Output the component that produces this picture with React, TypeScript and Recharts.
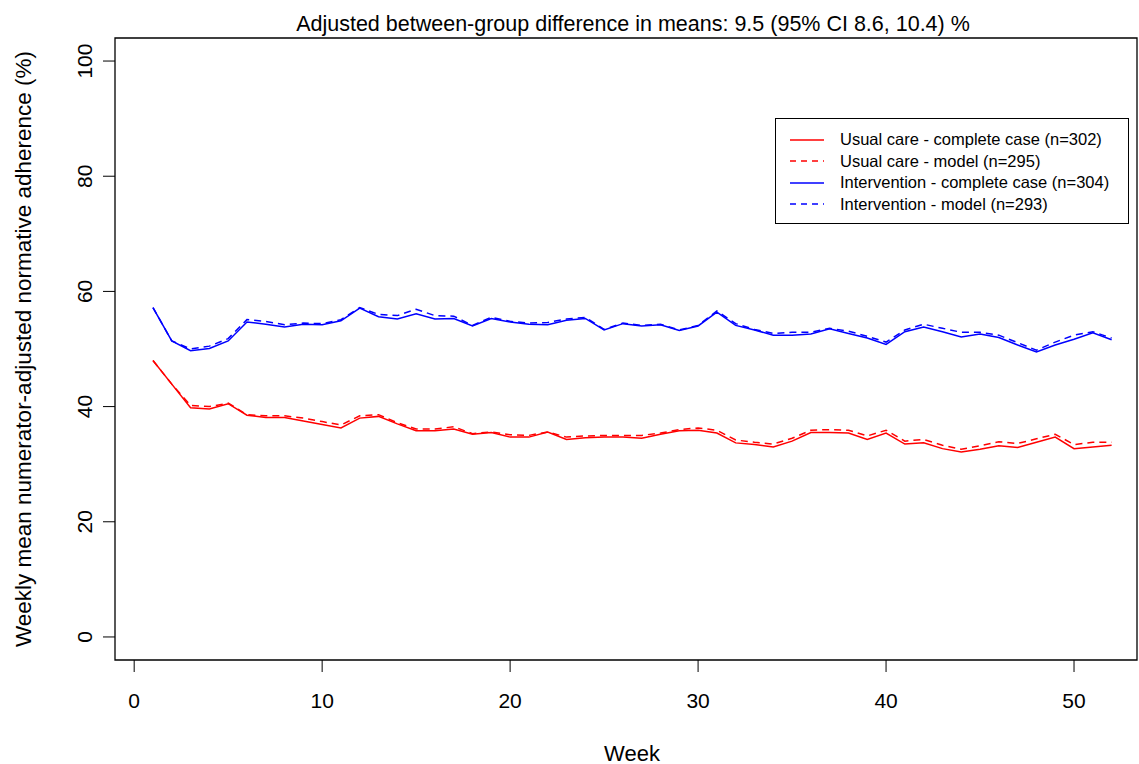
import { LineChart, Line, XAxis, YAxis, ReferenceArea } from 'recharts'

const weeks = [
  1, 2, 3, 4, 5, 6, 7, 8, 9, 10, 11, 12, 13, 14, 15, 16, 17, 18, 19, 20, 21, 22, 23, 24, 25, 26,
  27, 28, 29, 30, 31, 32, 33, 34, 35, 36, 37, 38, 39, 40, 41, 42, 43, 44, 45, 46, 47, 48, 49, 50, 51, 52,
]

const usualComplete = [
  48.0, 43.9, 39.8, 39.6, 40.5, 38.5, 38.1, 38.1, 37.5, 36.9, 36.3, 38.0, 38.3, 37.0, 35.8, 35.8, 36.1,
  35.2, 35.5, 34.7, 34.7, 35.6, 34.3, 34.6, 34.7, 34.7, 34.5, 35.2, 35.8, 35.9, 35.4, 33.7, 33.4, 33.0,
  34.0, 35.5, 35.5, 35.4, 34.3, 35.4, 33.5, 33.7, 32.7, 32.1, 32.6, 33.2, 32.9, 33.8, 34.7, 32.7, 33.0, 33.3,
]

const usualModel = [
  48.0, 43.9, 40.2, 40.0, 40.6, 38.6, 38.4, 38.4, 38.0, 37.4, 36.8, 38.4, 38.6, 37.2, 36.1, 36.1, 36.5,
  35.3, 35.6, 35.1, 35.0, 35.6, 34.7, 34.9, 35.0, 35.0, 35.0, 35.4, 36.0, 36.3, 35.9, 34.2, 33.8, 33.5,
  34.5, 35.9, 36.0, 35.9, 34.9, 35.9, 34.0, 34.3, 33.3, 32.6, 33.2, 33.9, 33.6, 34.4, 35.2, 33.4, 33.8, 33.8,
]

const interventionComplete = [
  57.2, 51.4, 49.7, 50.1, 51.4, 54.7, 54.3, 53.8, 54.3, 54.2, 54.9, 57.1, 55.6, 55.2, 56.1, 55.2, 55.3,
  54.0, 55.3, 54.7, 54.3, 54.2, 55.0, 55.3, 53.3, 54.4, 54.0, 54.2, 53.2, 54.0, 56.4, 54.1, 53.3, 52.4,
  52.4, 52.6, 53.5, 52.7, 51.9, 50.8, 53.0, 53.8, 53.0, 52.1, 52.6, 52.0, 50.7, 49.5, 50.7, 51.7, 52.8, 51.6,
]

const interventionModel = [
  57.2, 51.4, 50.0, 50.5, 51.8, 55.1, 54.8, 54.2, 54.5, 54.4, 55.1, 57.2, 56.0, 55.8, 56.9, 55.8, 55.7,
  54.1, 55.5, 54.8, 54.5, 54.6, 55.2, 55.5, 53.4, 54.5, 54.1, 54.3, 53.3, 54.1, 56.6, 54.4, 53.4, 52.7,
  52.9, 52.9, 53.6, 53.1, 52.2, 51.2, 53.3, 54.3, 53.6, 52.9, 52.9, 52.4, 51.1, 49.8, 51.2, 52.4, 53.0, 51.9,
]

const xTicks = [0, 10, 20, 30, 40, 50]
const yTicks = [0, 20, 40, 60, 80, 100]

const legendItems = [
  { label: 'Usual care - complete case (n=302)', color: '#ff0000', dash: undefined },
  { label: 'Usual care - model (n=295)', color: '#ff0000', dash: '6 5' },
  { label: 'Intervention - complete case (n=304)', color: '#0000ff', dash: undefined },
  { label: 'Intervention - model (n=293)', color: '#0000ff', dash: '6 5' },
]

const FONT = 'Liberation Sans, Arial, sans-serif'

function XTick({ x, y, payload }: any) {
  return (
    <g>
      <line x1={x} y1={y} x2={x} y2={y + 12} stroke="#000" />
      <text x={x} y={y + 48} textAnchor="middle" fontSize={21} fontFamily={FONT} fill="#000">
        {payload.value}
      </text>
    </g>
  )
}

function YTick({ x, y, payload }: any) {
  return (
    <g>
      <line x1={x} y1={y} x2={x - 12} y2={y} stroke="#000" />
      <text
        x={x - 23}
        y={y}
        transform={`rotate(-90 ${x - 23} ${y})`}
        textAnchor="middle"
        fontSize={21}
        fontFamily={FONT}
        fill="#000"
      >
        {payload.value}
      </text>
    </g>
  )
}

export default function App() {
  const data = weeks.map((w, i) => ({
    week: w,
    usualComplete: usualComplete[i],
    usualModel: usualModel[i],
    interventionComplete: interventionComplete[i],
    interventionModel: interventionModel[i],
  }))

  return (
    <div
      style={{
        position: 'absolute',
        left: 0,
        top: 0,
        width: 1139,
        height: 764,
        background: '#fff',
        fontFamily: FONT,
      }}
    >
      <LineChart width={1139} height={764} data={data} margin={{ top: 38, right: 2, bottom: 0, left: 0 }}>
        <XAxis
          dataKey="week"
          type="number"
          domain={[-1.02, 53.35]}
          ticks={xTicks}
          allowDataOverflow
          axisLine={false}
          tickLine={false}
          tickSize={0}
          tickMargin={0}
          height={104}
          tick={<XTick />}
          interval={0}
        />
        <YAxis
          type="number"
          domain={[-4, 104]}
          ticks={yTicks}
          allowDataOverflow
          axisLine={false}
          tickLine={false}
          tickSize={0}
          tickMargin={0}
          width={115}
          tick={<YTick />}
          interval={0}
        />
        <ReferenceArea x1={-1.02} x2={53.35} y1={-4} y2={104} fill="none" stroke="#000" strokeWidth={1.3} />
        <Line
          dataKey="usualComplete"
          stroke="#ff0000"
          strokeWidth={1.5}
          dot={false}
          isAnimationActive={false}
        />
        <Line
          dataKey="usualModel"
          stroke="#ff0000"
          strokeWidth={1.5}
          strokeDasharray="7 5"
          dot={false}
          isAnimationActive={false}
        />
        <Line
          dataKey="interventionComplete"
          stroke="#0000ff"
          strokeWidth={1.5}
          dot={false}
          isAnimationActive={false}
        />
        <Line
          dataKey="interventionModel"
          stroke="#0000ff"
          strokeWidth={1.5}
          strokeDasharray="7 5"
          dot={false}
          isAnimationActive={false}
        />
      </LineChart>

      <div
        style={{
          position: 'absolute',
          left: 0,
          width: 1266,
          top: 11,
          textAlign: 'center',
          fontSize: 21.5,
          lineHeight: '26px',
          color: '#000',
        }}
      >
        Adjusted between-group difference in means: 9.5 (95% CI 8.6, 10.4) %
      </div>

      <div
        style={{
          position: 'absolute',
          left: 632 - 300,
          width: 600,
          top: 740,
          textAlign: 'center',
          fontSize: 22,
          lineHeight: '28px',
          color: '#000',
        }}
      >
        Week
      </div>

      <div
        style={{
          position: 'absolute',
          left: 24 - 350,
          top: 349 - 14,
          width: 700,
          textAlign: 'center',
          fontSize: 22.5,
          lineHeight: '28px',
          transform: 'rotate(-90deg)',
          color: '#000',
        }}
      >
        Weekly mean numerator-adjusted normative adherence (%)
      </div>

      <div
        style={{
          position: 'absolute',
          left: 775,
          top: 118,
          width: 354,
          height: 106,
          border: '1px solid #000',
          boxSizing: 'border-box',
          padding: '10px 0 0 14px',
          background: '#fff',
        }}
      >
        {legendItems.map((item) => (
          <div key={item.label} style={{ display: 'flex', alignItems: 'center', height: 21.5 }}>
            <svg width={36} height={10} style={{ marginRight: 14 }}>
              <line
                x1={0}
                y1={5}
                x2={34}
                y2={5}
                stroke={item.color}
                strokeWidth={1.3}
                strokeDasharray={item.dash}
              />
            </svg>
            <span style={{ fontSize: 16.5, color: '#000', whiteSpace: 'nowrap' }}>{item.label}</span>
          </div>
        ))}
      </div>
    </div>
  )
}
